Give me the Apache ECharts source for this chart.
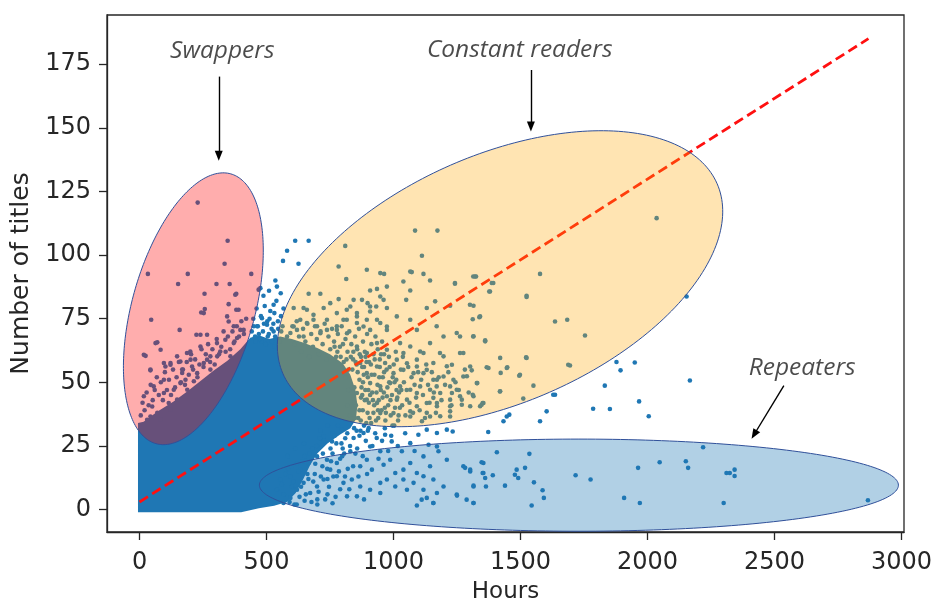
<!DOCTYPE html>
<html><head><meta charset="utf-8">
<script src="https://cdn.jsdelivr.net/npm/echarts@6/dist/echarts.min.js"></script>
<style>html,body{margin:0;padding:0;background:#fff}#c{width:933px;height:601px}</style>
</head><body><div id="c"></div>
<script>
// ---------------- data ----------------
const xTicks = [0, 500, 1000, 1500, 2000, 2500, 3000];
const yTicks = [0, 25, 50, 75, 100, 125, 150, 175];
const xLabel = 'Hours';
const yLabel = 'Number of titles';

// outline (hours, titles) of the region where points are packed solid
const denseCore = [[-6,-1],[-6,34],[16,34.5],[71,38.5],[134,42.5],[189,46.5],[240,50.5],[291,54.5],[346,58.5],[397,63],[436,67.5],[470,68.5],[510,67],[554,68],[600,67],[646,65.5],[700,63.5],[750,61],[800,57.5],[830,53],[850,47],[858,41],[852,35.5],[830,32],[790,29.5],[740,26],[700,22],[672,17.5],[645,12],[615,6.5],[580,3],[530,1.5],[470,0.5],[400,-1]];

const swapperPoints = [[229,120.6],[347,105.6],[335,96.6],[33,92.6],[190,92.6],[152,88.6],[303,88.6],[355,88.6],[440,92.6],[256,84.8],[381,84.8],[351,80.7],[381,78.5],[243,77.4],[257,78.8],[46,74.6],[345,75.9],[158,70.6],[351,73.9],[371,72],[224,68.7],[240,68.7],[266,68.7],[70,65.7],[17,60.8],[83,62.8],[200,62.1],[240,64.1],[305,65.4],[338,66.7],[318,62.1],[384,67.4],[410,70.6],[122,57.6],[161,58.2],[279,60.2],[358,60.2],[24,60.4],[43,54.7],[102,56.2],[96,51],[63,65.4],[187,61.5],[253,77.2],[377,84.4],[390,78.5],[17,44.5],[50,40.5],[30,35.3],[135,47.1],[168,53.7],[207,56.2],[266,58.9],[371,65.4],[397,70.6],[43,55],[96,57.6],[122,56.9],[148,60.2],[168,55],[201,58.9],[227,53.6],[253,57.6],[279,55],[306,60.2],[56,48.4],[96,45.8],[70,38],[122,39.3],[148,43.2],[188,47.1],[214,50.4],[240,48.4],[161,49.7],[43,36.6],[83,35.3],[115,41.9],[181,51],[266,51],
[5,37],[12,42],[20,39],[28,46],[36,41],[44,49],[52,43],[60,47],[68,52],[76,45],[84,50],[92,43],[100,54],[108,47],[116,51],[124,45],[132,55],[140,48],[146,52],[155,58],[163,50],[171,55],[179,49],[186,58],[194,53],[203,61],[211,55],[219,59],[228,52],[236,57],[244,63],[252,56],[261,61],[270,65],[278,58],[287,63],[296,57],[304,67],[313,61],[322,64],[331,70],[339,62],[348,68],[357,63],[366,70],[374,66],[383,72],[392,68],[401,74],[411,69],[420,75]];

const gapPoints = [[613,105.6],[666,105.6],[581,101.7],[565,97.7],[626,96.6],[541,87.6],[476,87],[528,80.5],[531,77.2],[482,75.2],[502,72.6],[463,72],[531,64.1],[528,70],[469,86.4],[450,72],[470,69],[490,73],[505,68],[520,71],[545,74],[558,70],[480,66],[455,68],[512,75],
[442,70],[448,75],[457,66],[461,79],[466,72],[473,67],[478,76],[486,70],[493,80],[497,65],[503,74],[509,69],[515,78],[522,66],[527,73],[534,68],[539,82],[546,71],[552,66],[557,76],[563,72],[567,79],[488,84],[510,86],[535,90],[556,85]];

const readerPoints = [[1085,109.6],[1173,109.6],[810,103.6],[1112,99.7],[784,95.5],[895,94.2],[963,92.6],[1072,93.3],[1118,92.6],[814,90.6],[1144,90],[1039,89.6],[1242,89],[1321,91.6],[908,86.1],[935,86.7],[666,84.8],[712,84.8],[1066,86.1],[1050,82.4],[784,82.7],[876,82.4],[898,81.1],[961,82.4],[974,79.2],[932,79.8],[908,77.8],[1164,81.8],[1223,80.1],[1301,80.5],[1341,75.9],[607,79.2],[646,79.2],[685,76.5],[725,79.2],[816,78.5],[856,77.2],[1013,75.9],[1066,74.6],[1092,70.6],[1131,79.2],[1170,72],[1249,69.4],[1314,68],[1262,68],[1197,68],[816,74.6],[856,73.3],[895,74.6],[948,73.3],[974,70.6],[777,72],[738,70.6],[699,72],[659,73.3],[620,70.6],[594,69.4],[1026,65.4],[1066,64.1],[1105,62.1],[1144,65.4],[1183,61.5],[1230,56.9],[1275,61.5],[1328,49.7],[1354,41.9],[1269,43.2],[1230,45.8],[1171,51],[1131,54.9],[1092,56.2],[1053,57.5],[1013,58.9],
[1223,48.4],[1269,41.2],[1171,41.9],[1131,38],[1092,45.8],[1066,38.6],[1223,38.6],[1112,34.7],
[1325,91.6],[1577,92.6],[1393,89],[1377,85.7],[1524,83.5],[1315,80.1],[1338,75.6],[1312,74.8],[1636,73.9],[1684,74.6],[1754,68.4],[1361,66.5],[1522,59.8],[1367,55.9],[1448,55.9],[1422,53.7],[1495,52.6],[1695,56.6],[1308,54.7],[1330,49.7],[1551,48.7],[1419,46.4],[1511,43.6],[1312,45.1],[1351,41.9],[2154,83.7],[2036,114.5],
[856,64.1],[895,61.5],[935,65.4],[974,62.8],[1039,61.5],[1092,58.9],[1118,61.5],[1157,57.6],[1197,60.2],[1262,61.5],[1302,56.2],[1275,52.3],[1236,51],[1197,52.3],[1157,51],[1118,53.6],[1079,53.6],[1039,54.9],[1000,53.6],[967,57.6],[935,56.2],[895,53.6],[869,57.6],[908,49.7],[948,48.4],[987,49.7],[1026,48.4],[1066,47.1],[1105,48.4],[1144,47.1],[1184,45.8],[1223,43.2],[1262,44.5],[1302,40.6],[1341,40.6],[1171,40.6],[1131,41.9],[1092,40.6],[1053,43.2],[1013,43.2],[974,44.5],[935,41.9],[895,43.2],[856,45.8],[948,37.9],[1000,37.9],[1066,36.6],[1144,36.6],[1223,36.6],
[751,81.1],[777,77.2],[803,74.6],[830,79.8],[856,75.9],[882,71.9],[817,69.3],[777,70.6],[738,74.6],[712,69.3],[685,74.6],[659,78.5],[633,74.6],[607,71.9],[581,68],[646,68],[843,82.4],[908,79.8],[935,74.6],[908,70.6],[974,71.9],[948,83.7],
[1066,93.5],[1314,91.6],[1387,89],[1242,88.7],[1524,84],[1380,85.7],[974,87.6],[948,92.9],
[1688,56.9],[1524,59.6],[1420,46.5],[1498,53],[1446,55.6],[1374,55.6],[1361,66.1],[1315,68.1],[1289,52.4],[1210,56.3],[1223,40.6],[1315,44.5],[1347,41.2],[1420,59.6],[1249,47.1],[1170,48.4],[1157,43.9],[1184,36.7],
[838,55],[846,48],[852,41],[861,36],[866,51],[872,44],[879,39],[884,56],[889,47],[893,34],[899,52],[903,42],[911,57],[916,46],[921,38],[925,53],[931,35],[937,49],[942,43],[946,56],[953,39],[958,52],[962,46],[968,35],[973,55],[979,41],[983,50],[989,37],[994,45],[1001,57],[1006,40],[1011,51],[1018,35],[1022,46],[1029,55],[1034,41],[1041,50],[1047,37],[1052,47],[1058,56],[1063,42],[1071,52],[1077,38],[1083,49],[1089,44],[1097,54],[1103,39],[1109,51],[1116,45],[1124,36],[1129,57],[1136,49],[1142,42],[1151,54],[1159,46],[1167,38],[1178,52],[1189,43],[1203,49],[1216,54],[1228,41],[1244,50],[1257,47],[1281,55],[1296,46],
[602,72],[611,65],[619,74],[628,68],[637,62],[644,71],[653,66],[661,73],[668,60],[676,69],[683,64],[691,72],[698,67],[706,61],[713,70],[721,65],[729,73],[736,59],[744,68],[751,63],[758,71],[766,66],[774,60],[781,69],[789,64],[796,72],[804,58],[811,67],[819,62],[826,70],[834,65],[841,59],[849,68],[857,63],[864,71],[872,60],[880,66],[887,62],[896,69],[904,58],[913,65],[921,61],[929,68],[938,63],[946,59],[955,66],[963,61],
[812,52],[824,47],[818,41],[829,37],[845,42],[855,57],[871,35],[880,50],[898,38],[908,45],[890,60],[877,56],[924,41],[940,36],[950,47],[966,40],[985,56],[997,52],[1012,47],[1025,40],
[842,62],[851,58],[859,54],[867,61],[874,48],[883,53],[887,43],[894,58],[901,47],[906,36],[914,53],[919,43],[926,59],[933,46],[939,39],[944,52],[951,61],[957,44],[963,54],[970,38],[976,48],[982,60],[988,43],[996,33],[1004,50],[1009,62],[1015,44],[1020,37],[1031,47],[1037,60],[768,64],[779,62],[792,60],[801,65],[815,59],[823,55],[832,60],[848,36],[855,31],[870,31],[884,33],[899,31],[912,34],[866,39],[877,45]];

const tailPoints = [[725,28.8],[758,26.8],[797,31.4],[830,22.9],[843,28.1],[882,30.1],[908,24.8],[934,28.1],[967,29.4],[993,26.8],[948,22.9],[895,19.6],[869,17],[915,15.7],[961,17.6],[987,19.6],[1033,22.9],[1066,26.1],[1098,29.4],[1131,31.4],[1171,30.1],[1210,31.4],[1233,30.7],[1138,25.5],[1171,24.8],[1118,20.9],[1066,18.3],[1039,15.7],[1092,14.4],[1144,17],[1177,22.9],[1210,19.6],[1275,17],[1302,15],[1354,18.3],[1354,14.4],[1315,9.1],[1288,3.9],[1249,5.9],[1197,9.1],[1157,11.8],[1118,7.8],[1079,10.5],[1039,11.8],[1007,14.4],[974,11.8],[948,10.5],[908,7.8],[869,9.1],[836,11.8],[803,10.5],[777,13.1],[751,15.7],[725,11.8],[699,9.1],[672,6.5],[646,10.5],[620,7.8],[594,4.6],[567,2.6],[541,7.8],[554,11.8],[594,13.1],[633,15.7],[666,18.3],[699,20.9],[738,19.6],[777,18.3],[817,5.2],[856,5.2],[948,6.5],[1007,9.1],[1053,7.8],[1111,3.9],[1157,2.6],[1315,2.6],[1171,6.5],[1118,13.1],
[610,2],[650,3.5],[700,4],[740,6],[760,2.5],[790,8],[690,14],[720,17],[760,22],[790,20],[680,24],[710,28],[650,21],[620,18],[585,16],[560,10],[600,9],[630,5],[665,12],[700,2],[740,12],[775,26],[800,24],[820,16],[850,22],[810,28],[760,30],
[712,31],[726,27],[741,33],[752,24],[768,29],[781,33],[795,26],[806,22],[818,30],[829,25],[845,32],[857,24],[866,29],[879,21],[891,27],[902,32],[917,25],[928,30],[941,20],[955,27],[966,32],[979,23],[991,29],[1003,33],[1017,25],[1046,30],[1083,23],
[568,6],[575,14],[583,21],[591,3],[598,17],[606,11],[613,24],[619,2],[627,15],[636,9],[642,19],[648,26],[655,6],[661,14],[669,22],[677,3],[684,11],[692,18],[698,25],[705,7],[714,13],[722,22],[731,4],[739,16],[746,9],[754,19],[763,13],[772,5],[785,15],[798,21],[809,13],[826,8],[841,17],[862,13],[884,4],[896,14]];

const repeaterPoints = [[1407,22.5],[1535,21.9],[1347,18.6],[1302,15.7],[1351,14.4],[1361,12.4],[1391,13.5],[1315,9.4],[1364,9.1],[1439,9.4],[1478,13.7],[1491,12.4],[1518,16.4],[1485,15.7],[1553,10.7],[1587,7.6],[1592,4.6],[1544,1.6],[1315,2.6],[1717,13.5],[1776,11.8],[1908,4.6],[1970,2.6],[1963,16.4],[2048,18.6],[2151,19],[2160,16.4],[2219,24.5],[2311,14.4],[2300,2.6],[2324,14.4],[2343,15.7],[2343,13.2],[2868,3.7],[1282,16.4],[1250,5.5],[1131,4.6],[1092,1.6],[1157,2.6],[1577,34.7],[1603,38.6],[1636,45.1],[1433,34.7],[1446,36.6],[1373,30.5],[1456,37.3]];

const outlierPoints = [[1878,58],[1950,57.8],[1894,54.7],[2167,50.7],[1832,48.7],[1967,42.5],[1852,39.5],[2005,36.7],[1786,39.6],[1629,45.1]];

// dashed reference line
const fitHours = [0, 2870];
const fitTitles = [3, 185];

// ellipses: centre and two conjugate semi-axes, in (hours, titles)
const ellipseNames = ['Swappers', 'Constant readers', 'Repeaters'];
const ellipseCenters = [[212, 78.9], [1419.5, 90.7], [1730, 9.6]];
const ellipseAxisU = [[147, 53.0], [854.8, 37.3], [1258, 0]];
const ellipseAxisV = [[-232.8, 6.44], [-195, 44.6], [0, 18.1]];

// annotations
const annoText = ['Swappers', 'Constant readers', 'Repeaters'];
const annoTextAt = [[326, 180.2], [1497, 180.6], [2609, 55.6]];
const annoArrowFrom = [[312, 170.1], [1541, 172.7], [2537, 48.7]];
const annoArrowTo = [[312, 139], [1541, 150.5], [2420, 29.5]];

// ---------------- styles ----------------
const ellipseFills = ['rgba(255,0,0,0.32)', 'rgba(255,165,0,0.3)', 'rgba(31,119,180,0.35)'];
const pointColor = '#1f77b4';
const ink = '#262626';
const tickFont = 'DejaVu Sans';

const allPoints = [].concat(swapperPoints, gapPoints, readerPoints, tailPoints, repeaterPoints, outlierPoints);

const chart = echarts.init(document.getElementById('c'), null, {renderer: 'canvas'});
chart.setOption({
  animation: false,
  backgroundColor: '#fff',
  grid: {left: 107, right: 29, top: 15, bottom: 69, show: true, borderColor: ink, borderWidth: 1.3, backgroundColor: 'transparent', containLabel: false, outerBoundsMode: 'none'},
  xAxis: {
    type: 'value', min: -128, max: 3010,
    name: xLabel, nameLocation: 'middle', nameGap: 49,
    nameTextStyle: {fontFamily: tickFont, fontSize: 23, color: ink},
    axisLine: {show: true, onZero: false, lineStyle: {color: ink, width: 1.3}},
    axisTick: {show: true, length: 8, customValues: xTicks, lineStyle: {color: ink, width: 1.3}},
    axisLabel: {customValues: xTicks, margin: 19, fontFamily: tickFont, fontSize: 24, color: ink, formatter: v => String(v)},
    splitLine: {show: false}
  },
  yAxis: {
    type: 'value', min: -8.8, max: 194.3,
    name: yLabel, nameLocation: 'middle', nameGap: 70, nameRotate: 90,
    nameTextStyle: {fontFamily: tickFont, fontSize: 25, color: ink},
    axisLine: {show: true, onZero: false, lineStyle: {color: ink, width: 1.3}},
    axisTick: {show: true, length: 8, customValues: yTicks, lineStyle: {color: ink, width: 1.3}},
    axisLabel: {customValues: yTicks, margin: 16, fontFamily: tickFont, fontSize: 24, color: ink, formatter: v => String(v)},
    splitLine: {show: false}
  },
  series: [
    {
      type: 'custom', name: 'dense', silent: true, z: 1,
      data: denseCore,
      renderItem: function (params, api) {
        if (params.dataIndex !== 0) return null;
        return {type: 'polygon', shape: {points: denseCore.map(p => api.coord(p))}, style: {fill: pointColor}};
      }
    },
    {
      type: 'scatter', name: 'users', z: 2, symbol: 'circle', symbolSize: 4.6,
      itemStyle: {color: pointColor, opacity: 1},
      data: allPoints
    },
    {
      type: 'line', name: 'fit', z: 3, symbol: 'none',
      data: fitHours.map((h, i) => [h, fitTitles[i]]),
      lineStyle: {color: '#ff1010', width: 2.8, type: [10, 5]}
    },
    {
      type: 'custom', name: 'groups', z: 4, silent: true,
      data: ellipseCenters.map((c, i) => ({name: ellipseNames[i], value: c})),
      renderItem: function (params, api) {
        const i = params.dataIndex;
        const c = ellipseCenters[i], u = ellipseAxisU[i], v = ellipseAxisV[i];
        const pts = [];
        for (let k = 0; k < 240; k++) {
          const t = k / 240 * Math.PI * 2;
          pts.push(api.coord([c[0] + u[0] * Math.cos(t) + v[0] * Math.sin(t), c[1] + u[1] * Math.cos(t) + v[1] * Math.sin(t)]));
        }
        return {type: 'polygon', shape: {points: pts}, style: {fill: ellipseFills[i], stroke: '#30509a', lineWidth: 1}};
      }
    },
    {
      type: 'scatter', name: 'notes', z: 5, symbolSize: 0, silent: true,
      data: annoTextAt.map((p, i) => ({name: annoText[i], value: p})),
      label: {show: true, position: 'inside', formatter: '{b}', fontFamily: 'Open Sans', fontStyle: 'italic', fontSize: 24.5, color: '#1e1e1e'},
      markLine: {
        silent: true, symbol: ['none', 'triangle'], symbolSize: [8, 10],
        lineStyle: {color: '#000', width: 1.4, type: 'solid'},
        label: {show: false},
        data: annoArrowFrom.map((f, i) => [{coord: f}, {coord: annoArrowTo[i]}])
      }
    }
  ]
});
</script>
</body></html>
